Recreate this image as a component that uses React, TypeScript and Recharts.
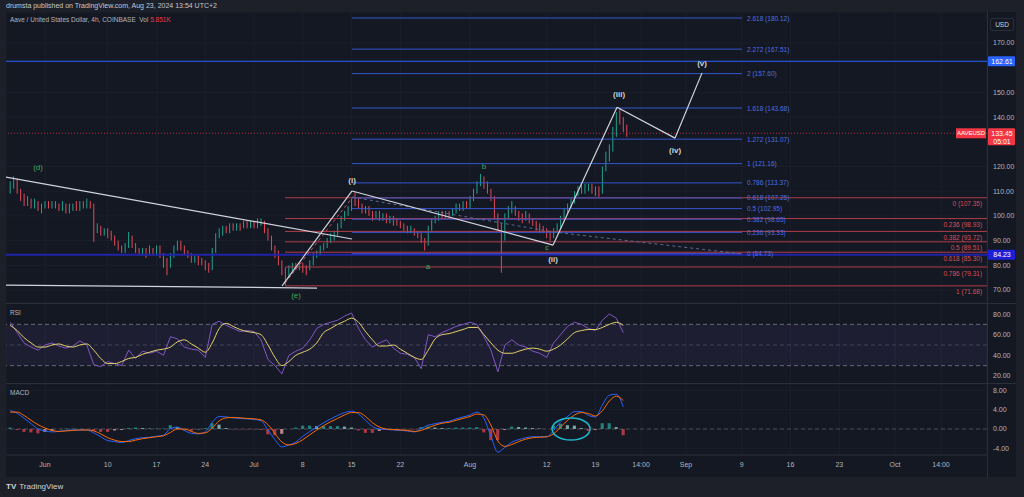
import {
  ComposedChart, Bar, Line, Scatter, XAxis, YAxis, CartesianGrid,
  ReferenceLine, ReferenceArea, Cell,
} from 'recharts'

// x values are days counted from Jun 1 2024 00:00
const timeTicks = [0, 9, 16, 23, 30, 37, 44, 51, 61, 72, 79, 85.55, 92, 100, 107, 114, 122, 128.6]
const timeLabels = ['Jun', '10', '17', '24', 'Jul', '8', '15', '22', 'Aug', '12', '19', '14:00', 'Sep', '9', '16', '23', 'Oct', '14:00']
const priceTicks = [70, 80, 90, 100, 110, 120, 140, 150, 170]
const rsiTicks = [20, 40, 60, 80]
const macdTicks = [-4, 0, 4, 8]

// AAVE/USD candles, one every 12h starting May 27 00:00
const candleStartDay = -5
const firstOpen = 110
const closes = [
  112, 114, 110, 108, 106, 107, 104, 105, 103, 104,
  105, 104, 105, 104, 103, 105, 102, 103, 104, 103,
  105, 104, 105, 104, 94, 96, 93, 94, 93, 91,
  89, 87, 86, 88, 91, 88, 86, 85, 86, 85,
  86, 85, 87, 84, 82, 80, 84, 87, 89, 87,
  85, 84, 82, 83, 82, 81, 80, 79, 86, 92,
  93, 95, 94, 96, 95, 96, 95, 97, 96, 97,
  96, 97, 98, 95, 92, 88, 85, 82, 79, 76,
  79, 80, 79, 80, 79, 78, 81, 84, 85, 87,
  88, 90, 91, 93, 96, 99, 101, 103, 106, 105,
  104, 102, 103, 101, 100, 101, 99, 100, 98, 99,
  98, 97, 96, 95, 94, 95, 93, 92, 90, 89,
  95, 98, 99, 101, 100, 101, 100, 102, 104, 103,
  105, 104, 107, 110, 113, 115, 113, 110, 108, 101,
  96, 92, 100, 102, 104, 101, 100, 99, 100, 98,
  97, 96, 95, 94, 93, 92, 94, 96, 99, 102,
  104, 106, 109, 111, 110, 111, 112, 110, 111, 110,
  119, 124, 127, 134, 141, 139, 136, 133.45,
]
const highs = [
  114, 116, 115, 111, 109, 108, 107, 107, 106, 105,
  106, 106, 106, 106, 105, 106, 105, 105, 105, 106,
  106, 106, 107, 106, 105, 97, 96, 95, 95, 94,
  92, 90, 88, 89, 93.5, 92, 89, 87, 87, 87,
  88, 87, 88, 88, 85, 83, 85, 88, 90, 90,
  88, 86, 85, 84, 84, 83, 82, 81, 87, 93,
  95, 96, 96, 97, 97, 97, 97, 98, 98, 98,
  98, 99, 99, 98, 95, 92, 88, 86, 82, 79,
  80, 81, 81, 81, 81, 80, 82, 85, 86, 88,
  89, 91, 93, 94, 97, 100, 102, 104, 107, 109.7,
  107, 105, 104, 104, 102, 102, 102, 101, 101, 100,
  100, 99, 98, 97, 96, 96, 95, 94, 93, 91,
  96, 99, 100, 102, 102, 102, 102, 103, 105, 105,
  106, 106, 108, 111, 114, 117, 116, 114, 111, 108,
  101, 97, 101, 104, 106, 104, 102, 101, 102, 101,
  99, 98, 97, 96, 95, 94, 95, 97, 100, 103,
  105, 107, 110, 112, 113, 113, 113, 113, 112, 112,
  120, 126, 129, 136, 142, 143.7, 140, 137,
]
const lows = [
  109, 111, 109, 106, 104, 104, 103, 103, 102, 101,
  103, 103, 103, 103, 102, 102, 101, 101, 102, 102,
  102, 103, 103, 103, 89.5, 93, 92, 92, 91, 90,
  88, 86, 85, 85, 87, 87, 85, 84, 84, 83,
  84, 84, 84, 83, 79, 76, 79, 83, 86, 86,
  84, 83, 81, 81, 80, 80, 78, 77, 78, 85,
  91, 92, 93, 93, 94, 94, 94, 95, 95, 95,
  95, 95, 96, 93, 90, 86, 83, 80, 76, 71.7,
  75, 77, 78, 78, 77, 76, 78, 80, 83, 84,
  86, 87, 89, 90, 92, 95, 98, 100, 102, 104,
  103, 101, 101, 100, 98, 99, 98, 98, 97, 97,
  96, 96, 95, 94, 93, 93, 92, 91, 89, 86,
  88, 94, 97, 98, 99, 99, 99, 100, 101, 102,
  102, 103, 103, 106, 109, 112, 111, 109, 106, 99,
  94, 77, 90, 99, 101, 100, 98, 97, 98, 97,
  96, 94, 93, 93, 91, 90, 91, 93, 95, 98,
  101, 103, 105, 108, 109, 109, 110, 109, 108, 107.7,
  109, 118, 122, 126, 132, 137, 134, 132,
]

// indicators, one point per day starting May 27
const indicatorStartDay = -5
const rsiLine = [
  72, 62, 52, 48, 45, 50, 52, 49, 47, 49,
  54, 50, 31, 29, 34, 32, 30, 45, 37, 44,
  42, 44, 40, 58, 56, 48, 46, 45, 38, 70,
  73, 69, 66, 63, 64, 63, 55, 36, 30, 22,
  40, 44, 47, 55, 66, 70, 72, 74, 78, 81,
  66, 55, 48, 52, 55, 47, 42, 41, 38, 27,
  60, 58, 62, 65, 68, 70, 72, 70, 58, 45,
  24, 50, 55, 50, 48, 44, 42, 38, 52, 60,
  68, 72, 70, 66, 64, 74, 80, 76, 62,
]
const rsiMa = [
  69, 64, 57, 52, 48, 48, 50, 51, 49, 48,
  50, 51, 45, 37, 32, 32, 34, 37, 38, 41,
  43, 45, 46, 48, 53, 55, 51, 47, 43, 52,
  66, 71, 68, 65, 63, 62, 60, 50, 38, 30,
  34, 40, 43, 46, 52, 62, 66, 70, 73, 76,
  72, 63, 55, 49, 49, 50, 46, 42, 38, 36,
  45, 56, 60, 61, 63, 65, 67, 67, 60, 52,
  45, 42, 42, 44, 46, 47, 46, 44, 46, 50,
  56, 62, 64, 65, 65, 67, 70, 72, 69,
]
const macdLine = [
  3.8, 3.3, 2.2, 1.1, 0.0, -0.4, -0.6, -0.5, -0.3, -0.2,
  -0.2, -0.2, -0.8, -1.6, -2.4, -2.6, -2.8, -2.4, -2.0, -1.8,
  -1.7, -1.5, -1.3, 0.1, 0.4, -0.3, -0.9, -1.0, -0.6, 1.4,
  2.6, 2.5, 2.3, 2.2, 2.1, 2.0, 1.7, -0.2, -2.2, -3.7,
  -3.3, -2.7, -1.5, -0.5, 0.4, 1.3, 2.1, 2.8, 3.4, 3.7,
  3.1, 1.8, 0.5, 0.0, -0.1, -0.2, -0.3, -0.4, -0.6, 0.1,
  0.8, 1.1, 1.4, 1.6, 2.1, 2.5, 2.9, 3.5, 2.2, -1.5,
  -4.8, -3.8, -2.7, -2.2, -1.8, -1.6, -1.6, -1.6, -0.3, 1.5,
  2.6, 3.6, 3.6, 2.8, 2.5, 5.0, 7.0, 7.2, 4.6,
]
const macdSignal = [
  3.5, 3.5, 2.8, 1.8, 0.9, 0.2, -0.3, -0.5, -0.4, -0.3,
  -0.2, -0.2, -0.4, -1.0, -1.8, -2.3, -2.6, -2.6, -2.3, -2.0,
  -1.8, -1.6, -1.4, -0.7, 0.0, 0.0, -0.5, -0.9, -0.8, 0.2,
  1.7, 2.3, 2.4, 2.3, 2.2, 2.1, 1.9, 0.9, -0.9, -2.7,
  -3.3, -3.0, -2.2, -1.2, -0.2, 0.7, 1.5, 2.2, 2.9, 3.4,
  3.4, 2.6, 1.3, 0.4, 0.0, -0.1, -0.2, -0.3, -0.5, -0.3,
  0.3, 0.8, 1.2, 1.4, 1.8, 2.2, 2.6, 3.1, 2.9, 0.8,
  -2.5, -3.6, -3.2, -2.6, -2.1, -1.8, -1.7, -1.6, -1.0, 0.4,
  1.8, 2.9, 3.4, 3.2, 2.7, 3.8, 5.8, 6.8, 5.9,
]
const macdHist = [
  0.3, -0.2, -0.6, -0.7, -0.9, -0.6, -0.3, 0.0, 0.1, 0.1,
  0.0, 0.0, -0.4, -0.6, -0.6, -0.3, -0.2, 0.2, 0.3, 0.2,
  0.1, 0.1, 0.1, 0.8, 0.4, -0.3, -0.4, -0.1, 0.2, 1.2,
  0.9, 0.2, -0.1, -0.1, -0.1, -0.1, -0.2, -1.1, -1.3, -1.0,
  0.0, 0.3, 0.7, 0.7, 0.6, 0.6, 0.6, 0.6, 0.5, 0.3,
  -0.3, -0.8, -0.8, -0.4, -0.1, -0.1, -0.1, -0.1, -0.1, 0.4,
  0.5, 0.3, 0.2, 0.2, 0.3, 0.3, 0.3, 0.4, -0.7, -2.3,
  -2.3, -0.2, 0.5, 0.4, 0.3, 0.2, 0.1, 0.0, 0.7, 1.1,
  0.8, 0.7, 0.2, -0.4, -0.2, 1.2, 1.2, 0.4, -1.3,
]

// fibonacci tools
const fibExtRatios = ['2.618', '2.272', '2', '1.618', '1.272', '1', '0.786', '0.618', '0.5', '0.382', '0.236', '0']
const fibExtPrices = [180.12, 167.51, 157.6, 143.68, 131.07, 121.16, 113.37, 107.25, 102.95, 98.65, 93.33, 84.73]
const fibRetRatios = ['0', '0.236', '0.382', '0.5', '0.618', '0.786', '1']
const fibRetPrices = [107.35, 98.93, 93.72, 89.51, 85.3, 79.31, 71.68]

// drawings (day, price)
const wavePath = [
  { d: 34.02, p: 71.7 }, { d: 44.07, p: 110.1 }, { d: 72.92, p: 88.2 },
  { d: 82.1, p: 144.0 }, { d: 90.43, p: 131.5 }, { d: 94.3, p: 157.9 },
]
const triangleUpper = [{ d: -5.6, p: 115.7 }, { d: 44.07, p: 90.65 }]
const triangleLower = [{ d: -5.6, p: 72.0 }, { d: 39.04, p: 70.8 }]
const dashedRed = [{ d: 34.45, p: 72.8 }, { d: 44.07, p: 107.25 }]
const dashedGrey = [{ d: 44.07, p: 107.65 }, { d: 72.92, p: 93.5 }, { d: 100.04, p: 84.6 }]

const waveLabels = [
  { text: '(i)', d: 44.07, p: 114.5 },
  { text: '(ii)', d: 72.92, p: 82.55 },
  { text: '(iii)', d: 82.39, p: 148.95 },
  { text: '(iv)', d: 90.43, p: 126.3 },
  { text: '(v)', d: 94.3, p: 161.9 },
]
const subLabels = [
  { text: '(d)', d: -1.0, p: 119.4 },
  { text: '(e)', d: 36.03, p: 67.6 },
  { text: 'a', d: 54.97, p: 79.7 },
  { text: 'b', d: 63.01, p: 120.2 },
  { text: 'c', d: 72.05, p: 87.4 },
]
const lastPrice = 133.45
const alertPrice = 162.61
const markPrice = 84.23
const macdCircle = [{ d: 75.5, v: 0 }]

// layout
const FONT = "'Liberation Sans', Arial, sans-serif"
const PANE_W = 1010
const AXIS_W = 29
const X_DOMAIN: [number, number] = [-5.6, 135.2]
const PRICE_DOMAIN: [number, number] = [64.74, 182.55]
const RSI_DOMAIN: [number, number] = [13.2, 89.7]
const MACD_DOMAIN: [number, number] = [-5.38, 9.32]
const FIB_EXT_FROM = 44.07
const FIB_EXT_TO = 100.04
const FIB_EXT_LABEL = 100.76
const FIB_RET_FROM = 34.45
const FIB_RET_LABEL = 134.5
const NO_MARGIN = { top: 0, right: 0, bottom: 0, left: 0 }

const FRAME = '#1d2029'
const BG = '#141823'
const GRID = '#1b1f2b'
const SEP = '#2a2e39'
const TEXT = '#b2b5be'
const UP = '#22a08f'
const DOWN = '#df4a57'
const FIB_BLUE = '#3556cf'
const FIB_BLUE_TEXT = '#4d6fe0'
const FIB_RED = '#b13c48'
const FIB_RED_TEXT = '#d4505c'
const WAVE = '#d1d4dc'
const GREEN_LABEL = '#43a85a'

const candles = closes.map((c, i) => ({
  d: candleStartDay + i * 0.5,
  o: i === 0 ? firstOpen : closes[i - 1],
  c,
  h: highs[i],
  l: lows[i],
  range: [lows[i], highs[i]],
}))

const indicatorRows = rsiLine.map((rsi, i) => ({
  d: indicatorStartDay + i,
  rsi,
  ma: rsiMa[i],
  macd: macdLine[i],
  signal: macdSignal[i],
  hist: macdHist[i],
}))

const fibExt = fibExtPrices.map((p, i) => ({ d: FIB_EXT_LABEL, p, text: `${fibExtRatios[i]} (${p.toFixed(2)})` }))
const fibRet = fibRetPrices.map((p, i) => ({ d: FIB_RET_LABEL, p, text: `${fibRetRatios[i]} (${p.toFixed(2)})` }))

const axisTags = [
  { d: X_DOMAIN[1], p: alertPrice, kind: 'alert' },
  { d: X_DOMAIN[1], p: lastPrice, kind: 'last' },
  { d: X_DOMAIN[1], p: markPrice, kind: 'mark' },
]

const tickStyle = { fill: TEXT, fontSize: 7, fontFamily: FONT }

function toSegments(points: { d: number, p: number }[]) {
  const segs = []
  for (let i = 1; i < points.length; i++) {
    segs.push([{ x: points[i - 1].d, y: points[i - 1].p }, { x: points[i].d, y: points[i].p }])
  }
  return segs
}

function Candle(props: any) {
  const { x, y, width, height, payload } = props
  if (!payload) return null
  const top = Math.min(y, y + height)
  const span = Math.abs(height)
  const { o, c, h, l } = payload
  const k = span / (h - l || 1)
  const yo = top + (h - o) * k
  const yc = top + (h - c) * k
  const color = c >= o ? UP : DOWN
  const cx = x + width / 2
  return (
    <g>
      <line x1={cx} x2={cx} y1={top} y2={top + span} stroke={color} strokeWidth={1} />
      <rect x={x} y={Math.min(yo, yc)} width={width} height={Math.max(Math.abs(yc - yo), 1)} fill={color} />
    </g>
  )
}

function WaveLabel(props: any) {
  const { cx, cy, payload } = props
  return (
    <text x={cx} y={cy} textAnchor="middle" dominantBaseline="central" fill={WAVE} fontSize={8} fontWeight="bold" fontFamily={FONT}>
      {payload.text}
    </text>
  )
}

function SubLabel(props: any) {
  const { cx, cy, payload } = props
  return (
    <text x={cx} y={cy} textAnchor="middle" dominantBaseline="central" fill={GREEN_LABEL} fontSize={8} fontFamily={FONT}>
      {payload.text}
    </text>
  )
}

function FibExtLabel(props: any) {
  const { cx, cy, payload } = props
  return (
    <text x={cx} y={cy} dominantBaseline="central" fill={FIB_BLUE_TEXT} fontSize={6.5} fontFamily={FONT}>
      {payload.text}
    </text>
  )
}

function FibRetLabel(props: any) {
  const { cx, cy, payload } = props
  return (
    <text x={cx} y={cy + 6} textAnchor="end" dominantBaseline="central" fill={FIB_RED_TEXT} fontSize={6.5} fontFamily={FONT}>
      {payload.text}
    </text>
  )
}

function AxisTag(props: any) {
  const { cx, cy, payload } = props
  const fill = payload.kind === 'alert' ? '#2962ff' : payload.kind === 'mark' ? '#1d1fd6' : '#f23645'
  const tall = payload.kind === 'last'
  return (
    <g fontFamily={FONT}>
      {tall && (
        <g>
          <rect x={cx - 31} y={cy - 5} width={30} height={10} fill="#f23645" />
          <text x={cx - 16} y={cy} textAnchor="middle" dominantBaseline="central" fill="#fff" fontSize={6}>AAVEUSD</text>
        </g>
      )}
      <rect x={cx + 1} y={cy - 5} width={AXIS_W - 2} height={tall ? 17 : 10} rx={1} fill={fill} />
      <text x={cx + 15} y={cy} textAnchor="middle" dominantBaseline="central" fill="#fff" fontSize={7}>
        {payload.p.toFixed(2)}
      </text>
      {tall && (
        <text x={cx + 15} y={cy + 8} textAnchor="middle" dominantBaseline="central" fill="#fff" fontSize={7}>05:01</text>
      )}
    </g>
  )
}

function CircleMark(props: any) {
  const { cx, cy } = props
  return <ellipse cx={cx} cy={cy} rx={19} ry={11} fill="none" stroke="#1fb5cc" strokeWidth={1.5} />
}

function histColor(v: number, prev: number) {
  if (v >= 0) return v >= prev ? '#26a69a' : '#9fd6cf'
  return v <= prev ? '#e0434f' : '#f0a7ad'
}

function MainPane() {
  return (
    <ComposedChart width={PANE_W} height={291} data={candles} margin={NO_MARGIN}>
      <CartesianGrid stroke={GRID} />
      <XAxis type="number" dataKey="d" domain={X_DOMAIN} ticks={timeTicks} hide />
      <YAxis
        type="number" orientation="right" domain={PRICE_DOMAIN} ticks={priceTicks} interval={0}
        width={AXIS_W} axisLine={false} tickLine={false} tickSize={0} tickMargin={6}
        tick={tickStyle} tickFormatter={(v: number) => v.toFixed(2)}
      />
      <ReferenceLine y={markPrice} stroke="#1f23a8" strokeWidth={2} ifOverflow="visible" />
      <ReferenceLine y={alertPrice} stroke="#2962ff" ifOverflow="visible" />
      {fibRetPrices.map((p) => (
        <ReferenceLine key={'r' + p} segment={[{ x: FIB_RET_FROM, y: p }, { x: X_DOMAIN[1], y: p }]} stroke={FIB_RED} ifOverflow="visible" />
      ))}
      {fibExtPrices.map((p) => (
        <ReferenceLine key={'b' + p} segment={[{ x: FIB_EXT_FROM, y: p }, { x: FIB_EXT_TO, y: p }]} stroke={FIB_BLUE} ifOverflow="visible" />
      ))}
      <ReferenceLine y={lastPrice} stroke="#f23645" strokeDasharray="1 2" strokeOpacity={0.7} ifOverflow="visible" />
      <Bar dataKey="range" barSize={2} shape={(p: any) => <Candle {...p} />} isAnimationActive={false} />
      {toSegments(dashedRed).map((s, i) => (
        <ReferenceLine key={'dr' + i} segment={s} stroke="#c0505a" strokeDasharray="3 3" ifOverflow="visible" />
      ))}
      {toSegments(dashedGrey).map((s, i) => (
        <ReferenceLine key={'dg' + i} segment={s} stroke="#5c6a8e" strokeDasharray="3 3" ifOverflow="visible" />
      ))}
      {toSegments([...triangleUpper]).concat(toSegments(triangleLower)).map((s, i) => (
        <ReferenceLine key={'t' + i} segment={s} stroke={WAVE} strokeWidth={1.2} ifOverflow="visible" />
      ))}
      {toSegments(wavePath).map((s, i) => (
        <ReferenceLine key={'w' + i} segment={s} stroke={WAVE} strokeWidth={1.2} ifOverflow="visible" />
      ))}
      <Scatter data={fibExt} dataKey="p" shape={FibExtLabel} isAnimationActive={false} />
      <Scatter data={fibRet} dataKey="p" shape={FibRetLabel} isAnimationActive={false} />
      <Scatter data={waveLabels} dataKey="p" shape={WaveLabel} isAnimationActive={false} />
      <Scatter data={subLabels} dataKey="p" shape={SubLabel} isAnimationActive={false} />
      <Scatter data={axisTags} dataKey="p" shape={AxisTag} isAnimationActive={false} />
    </ComposedChart>
  )
}

function RsiPane() {
  return (
    <ComposedChart width={PANE_W} height={79} data={indicatorRows} margin={NO_MARGIN}>
      <CartesianGrid stroke={GRID} horizontal={false} />
      <XAxis type="number" dataKey="d" domain={X_DOMAIN} ticks={timeTicks} hide />
      <YAxis
        type="number" orientation="right" domain={RSI_DOMAIN} ticks={rsiTicks} interval={0}
        width={AXIS_W} axisLine={false} tickLine={false} tickSize={0} tickMargin={6}
        tick={tickStyle} tickFormatter={(v: number) => v.toFixed(2)}
      />
      <ReferenceArea y1={30} y2={70} fill="#7e57c2" fillOpacity={0.1} stroke="none" ifOverflow="visible" />
      <ReferenceLine y={70} stroke="#787b86" strokeDasharray="4 3" strokeOpacity={0.8} />
      <ReferenceLine y={50} stroke="#787b86" strokeDasharray="4 3" strokeOpacity={0.4} />
      <ReferenceLine y={30} stroke="#787b86" strokeDasharray="4 3" strokeOpacity={0.8} />
      <Line dataKey="rsi" type="linear" stroke="#7e57c2" strokeWidth={1} dot={false} isAnimationActive={false} />
      <Line dataKey="ma" type="monotone" stroke="#e6d56c" strokeWidth={1} dot={false} isAnimationActive={false} />
    </ComposedChart>
  )
}

function MacdPane() {
  return (
    <ComposedChart width={PANE_W} height={93} data={indicatorRows} margin={NO_MARGIN}>
      <CartesianGrid stroke={GRID} />
      <XAxis
        type="number" dataKey="d" domain={X_DOMAIN} ticks={timeTicks} interval={0} height={22}
        axisLine={{ stroke: SEP }} tickLine={false} tickSize={0} tickMargin={7} tick={tickStyle}
        tickFormatter={(v: number) => timeLabels[timeTicks.indexOf(v)] ?? ''}
      />
      <YAxis
        type="number" orientation="right" domain={MACD_DOMAIN} ticks={macdTicks} interval={0}
        width={AXIS_W} axisLine={false} tickLine={false} tickSize={0} tickMargin={6}
        tick={tickStyle} tickFormatter={(v: number) => v.toFixed(2)}
      />
      <ReferenceLine y={0} stroke="#787b86" strokeDasharray="4 3" strokeOpacity={0.5} />
      <Bar dataKey="hist" barSize={5} isAnimationActive={false}>
        {indicatorRows.map((r, i) => (
          <Cell key={i} fill={histColor(r.hist, i > 0 ? indicatorRows[i - 1].hist : 0)} fillOpacity={0.75} />
        ))}
      </Bar>
      <Line dataKey="macd" type="monotone" stroke="#2962ff" strokeWidth={1} dot={false} isAnimationActive={false} />
      <Line dataKey="signal" type="monotone" stroke="#ff6d00" strokeWidth={1} dot={false} isAnimationActive={false} />
      <Scatter data={macdCircle} dataKey="v" shape={CircleMark} isAnimationActive={false} />
    </ComposedChart>
  )
}

export default function App() {
  const abs = (left: number, top: number) => ({ position: 'absolute' as const, left, top })
  return (
    <div style={{ position: 'absolute', left: 0, top: 0, width: 1024, height: 497, background: FRAME, overflow: 'hidden', fontFamily: FONT }}>
      <div style={{ ...abs(6, 1), fontSize: 7, lineHeight: '10px', color: '#c5c8d0', whiteSpace: 'nowrap' }}>
        drumsta published on TradingView.com, Aug 23, 2024 13:54 UTC+2
      </div>
      <div style={{ ...abs(6, 12), width: PANE_W, height: 465, background: BG }} />

      <div style={abs(6, 12)}><MainPane /></div>
      <div style={abs(6, 304)}><RsiPane /></div>
      <div style={abs(6, 384)}><MacdPane /></div>

      {/* pane separators */}
      <div style={{ ...abs(6, 303), width: PANE_W, height: 1, background: SEP }} />
      <div style={{ ...abs(6, 383), width: PANE_W, height: 1, background: SEP }} />
      <div style={{ ...abs(987, 12), width: 1, height: 465, background: SEP }} />

      <div style={{ ...abs(10, 15), fontSize: 6.5, lineHeight: '10px', color: TEXT, whiteSpace: 'nowrap' }}>
        Aave / United States Dollar, 4h, COINBASE&nbsp;&nbsp;Vol <span style={{ color: '#f23645' }}>5.851K</span>
      </div>
      <div style={{ ...abs(990, 18), width: 22, height: 11, border: `1px solid ${SEP}`, borderRadius: 2, fontSize: 6.5, lineHeight: '11px', textAlign: 'center', color: '#d1d4dc' }}>
        USD
      </div>
      <div style={{ ...abs(10, 308), fontSize: 6.5, lineHeight: '10px', color: TEXT }}>RSI</div>
      <div style={{ ...abs(10, 388), fontSize: 6.5, lineHeight: '10px', color: TEXT }}>MACD</div>

      <div style={{ ...abs(6, 482), fontSize: 8, lineHeight: '10px', color: '#d1d4dc', whiteSpace: 'nowrap' }}>
        <b style={{ marginRight: 3 }}>TV</b>TradingView
      </div>
    </div>
  )
}
